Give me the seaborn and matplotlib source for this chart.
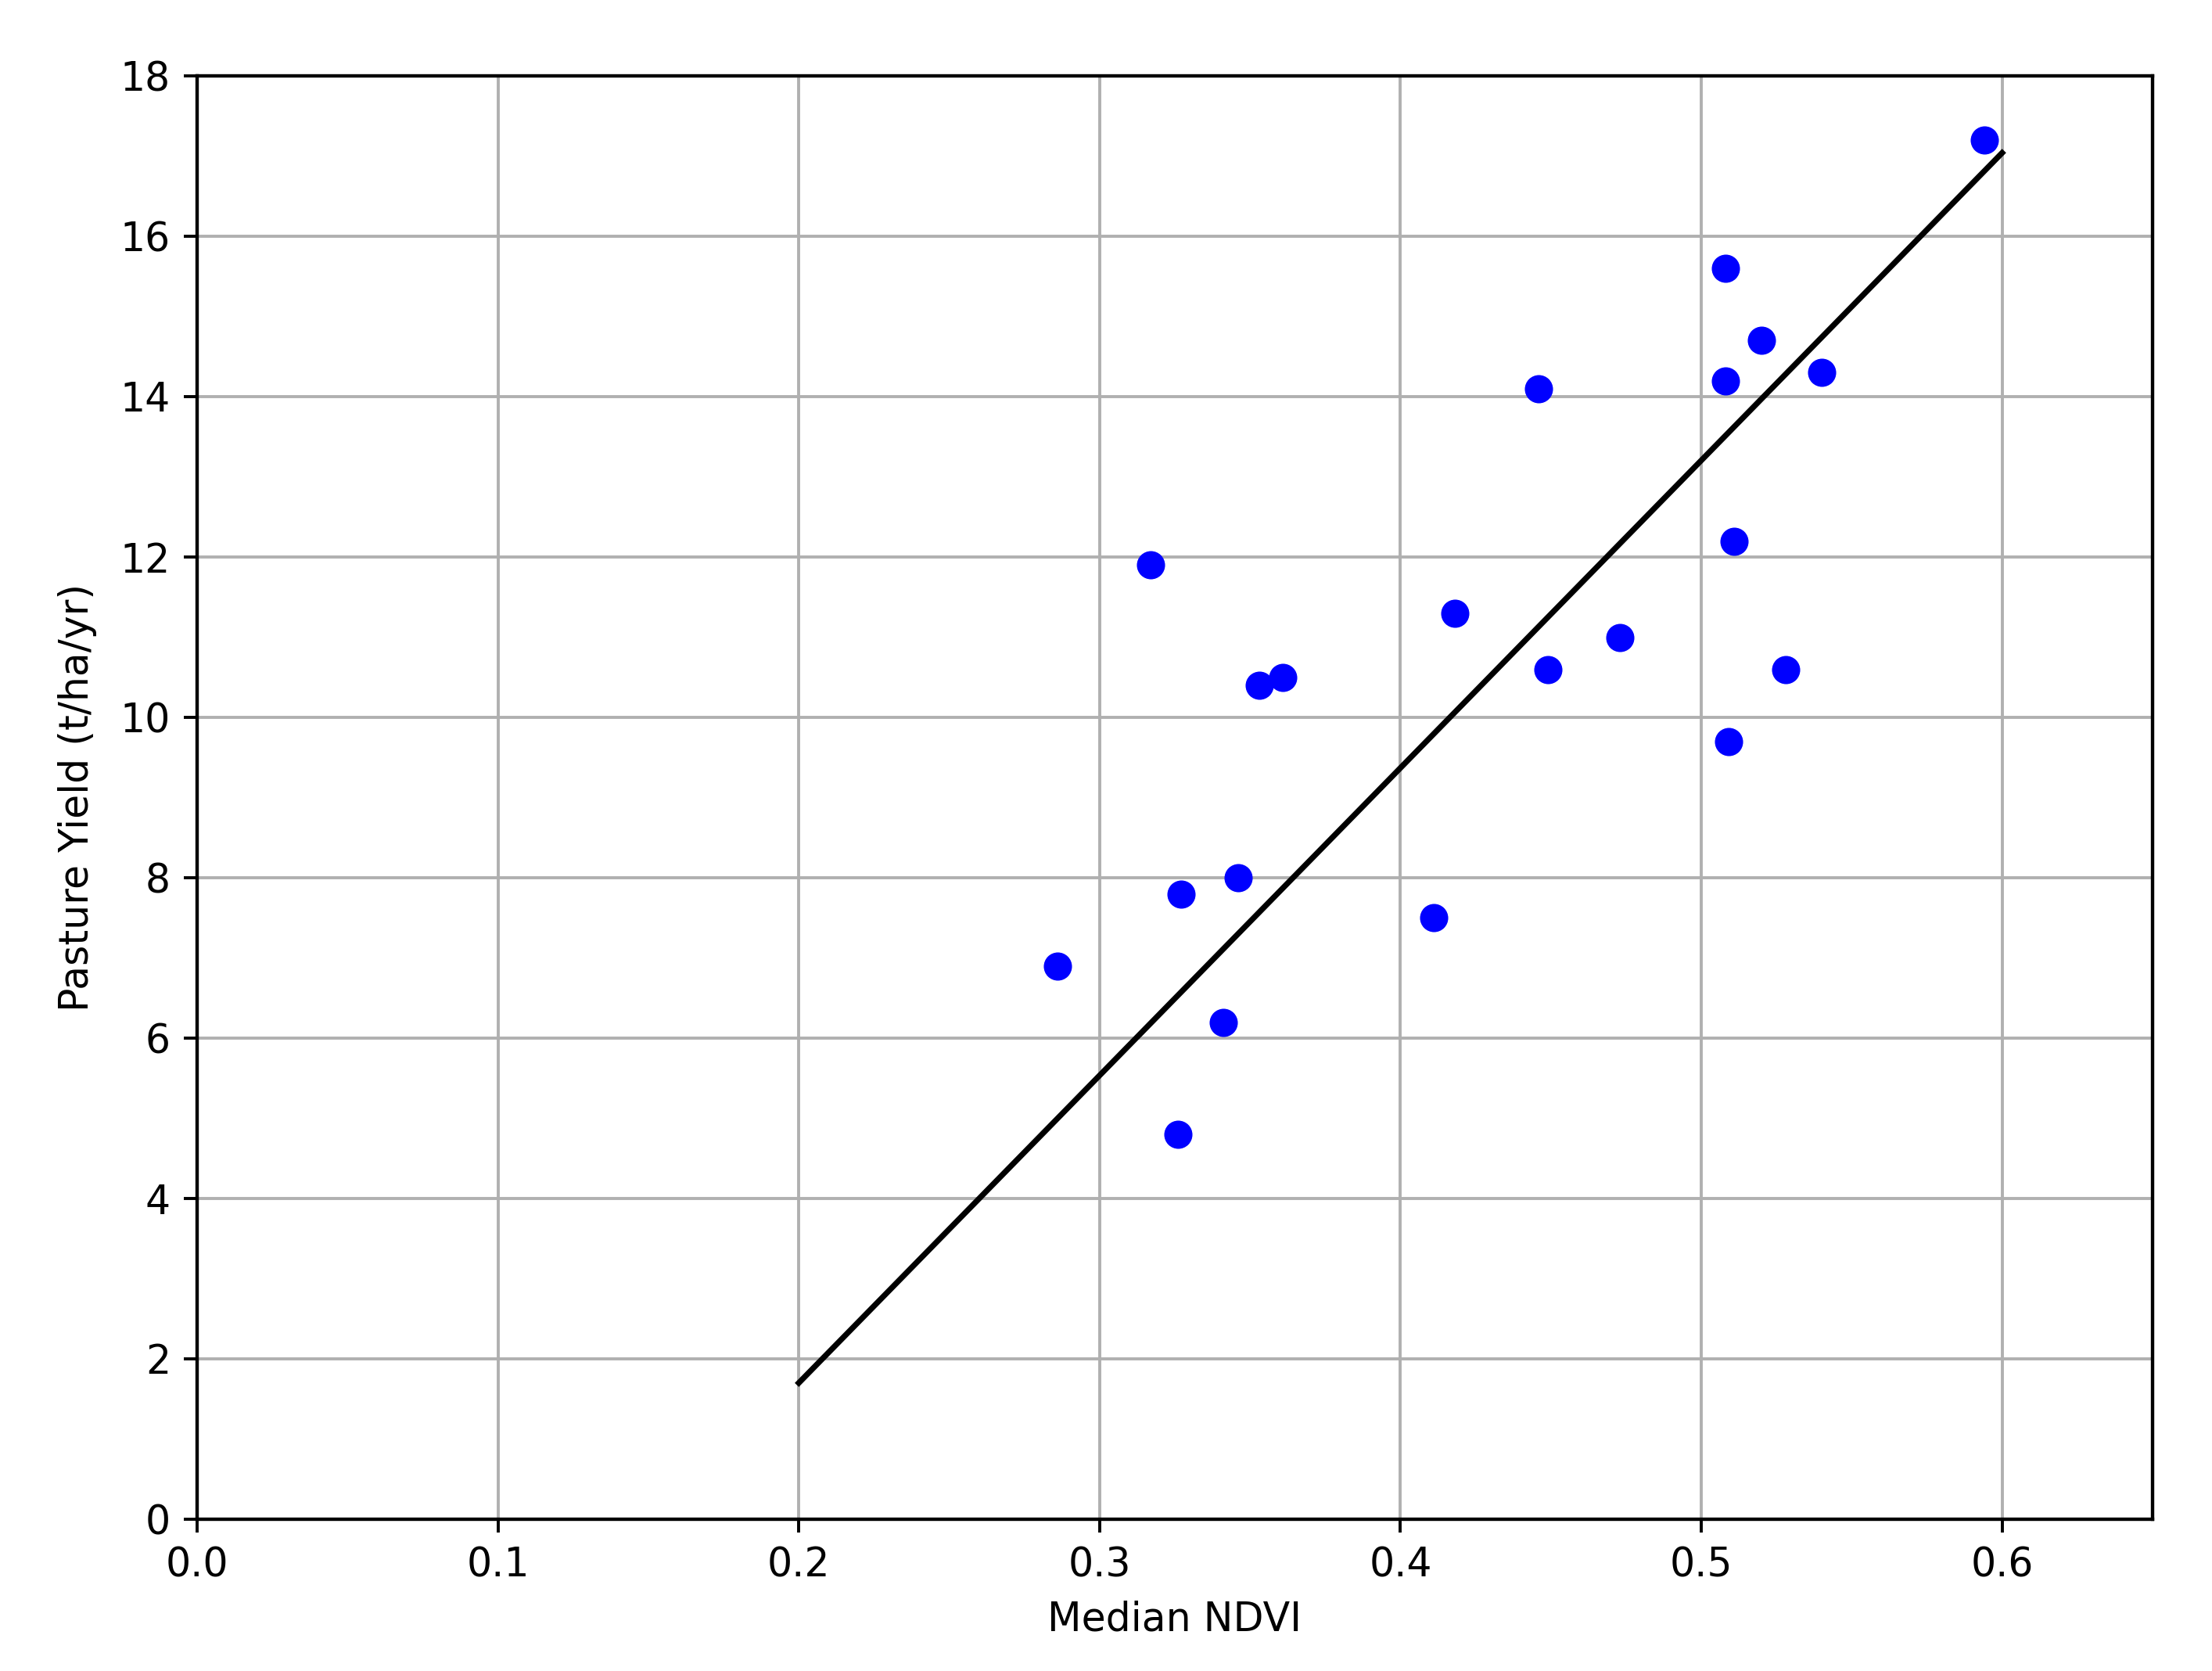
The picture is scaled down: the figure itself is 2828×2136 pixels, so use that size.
import matplotlib
matplotlib.use("Agg")
import matplotlib.pyplot as plt
import seaborn as sns
import pandas as pd

# Data
ndvi = [0.594, 0.508, 0.520, 0.508, 0.540, 0.446, 0.511, 0.317, 0.418, 0.473,
        0.361, 0.353, 0.449, 0.528, 0.509, 0.346, 0.327, 0.411, 0.286, 0.341, 0.326]
yield_t = [17.2, 15.6, 14.7, 14.2, 14.3, 14.1, 12.2, 11.9, 11.3, 11.0,
           10.5, 10.4, 10.6, 10.6, 9.7, 8.0, 7.8, 7.5, 6.9, 6.2, 4.8]

fit_x = [0.2, 0.6]
fit_y = [1.70, 17.04]

x_ticks = [0.0, 0.1, 0.2, 0.3, 0.4, 0.5, 0.6]
y_ticks = [0, 2, 4, 6, 8, 10, 12, 14, 16, 18]

pts = pd.DataFrame({"Median NDVI": ndvi, "Pasture Yield": yield_t})
fit = pd.DataFrame({"x": fit_x, "y": fit_y})

plt.rcParams['font.family'] = ['DejaVu Sans']
plt.rcParams['font.size'] = 10.4

DPI = 350
fig = plt.figure(figsize=(2828 / DPI, 2136 / DPI), dpi=DPI)
ax = fig.add_axes([252 / 2828, 1 - 1942 / 2136, (2752 - 252) / 2828, (1942 - 97) / 2136])

sns.lineplot(data=fit, x="x", y="y", ax=ax, color="black", linewidth=1.5, zorder=3)
sns.scatterplot(data=pts, x="Median NDVI", y="Pasture Yield", ax=ax, color="blue",
                s=55, linewidth=0, zorder=4)

ax.set_xlim(0, 0.65)
ax.set_ylim(0, 18)
ax.set_xticks(x_ticks)
ax.set_yticks(y_ticks)
ax.set_xlabel("Median NDVI")
ax.set_ylabel("Pasture Yield (t/ha/yr)", labelpad=6)
ax.grid(True, color="#b0b0b0", linewidth=0.8)
ax.set_axisbelow(True)
for sp in ax.spines.values():
    sp.set_linewidth(0.9)
    sp.set_color("black")

fig.savefig("out.png", dpi=DPI)
